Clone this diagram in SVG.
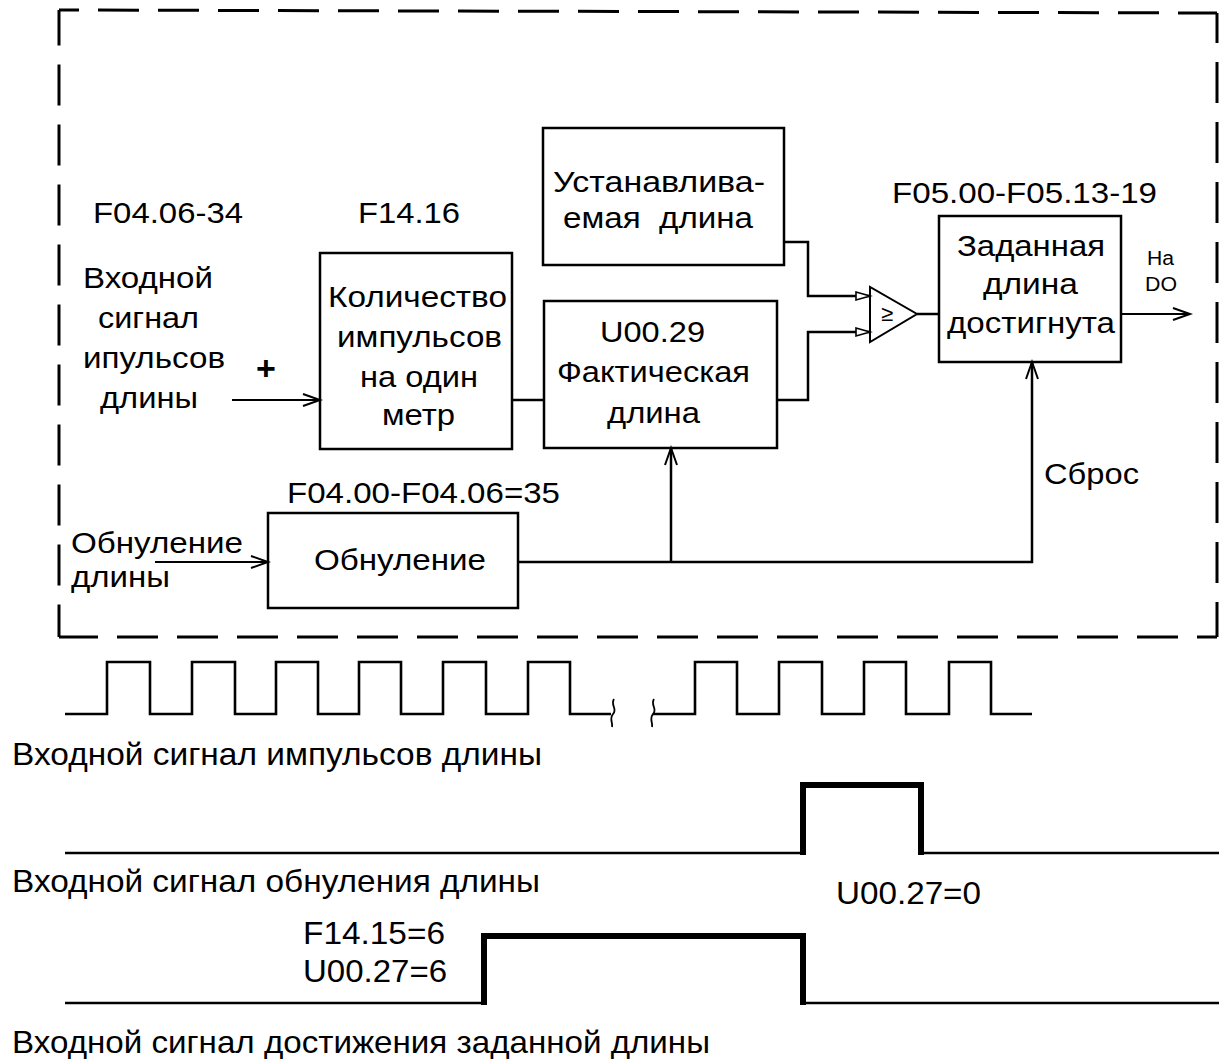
<svg xmlns="http://www.w3.org/2000/svg" width="1219" height="1059" viewBox="0 0 1219 1059">
<style>
  text { font-family: "Liberation Sans", Arial, sans-serif; font-size: 30px; fill: #000; }
  .box { fill: none; stroke: #000; stroke-width: 2.5; }
  .ln { fill: none; stroke: #000; stroke-width: 2.5; }
  .thin { fill: none; stroke: #000; stroke-width: 1.8; }
  .dash { fill: none; stroke: #000; stroke-width: 3; stroke-dasharray: 41 19; }
  .wave { fill: none; stroke: #000; stroke-width: 2.6; }
  .thick { fill: none; stroke: #000; stroke-width: 6; stroke-linejoin: miter; }
  .sm { font-size: 20px; }
  .bt { font-size: 32px; }
</style>
<defs>
  <marker id="open" markerUnits="userSpaceOnUse" markerWidth="20" markerHeight="16" refX="18" refY="7" orient="auto" overflow="visible">
    <path d="M1,1 L18,7 L1,13" fill="none" stroke="#000" stroke-width="2"/>
  </marker>
  <marker id="hollow" markerUnits="userSpaceOnUse" markerWidth="16" markerHeight="12" refX="15" refY="5" orient="auto" overflow="visible">
    <path d="M1,1 L15,5 L1,9 Z" fill="#fff" stroke="#000" stroke-width="1.6"/>
  </marker>
</defs>
<rect width="1219" height="1059" fill="#fff"/>

<g id="frame">
  <line class="dash" x1="59" y1="10" x2="1217" y2="13" stroke-dashoffset="21"/>
  <line class="dash" x1="59" y1="10" x2="59" y2="637" stroke-dashoffset="5.5"/>
  <line class="dash" x1="1217" y1="13" x2="1217" y2="637" stroke-dashoffset="11"/>
  <line class="dash" x1="59" y1="637" x2="1217" y2="637" stroke-dashoffset="2"/>
</g>

<g id="labels">
  <text x="93" y="223" textLength="150" lengthAdjust="spacingAndGlyphs">F04.06-34</text>
  <text x="358" y="223" textLength="102" lengthAdjust="spacingAndGlyphs">F14.16</text>
  <text x="83" y="288" textLength="130" lengthAdjust="spacingAndGlyphs">Входной</text>
  <text x="98" y="328" textLength="101" lengthAdjust="spacingAndGlyphs">сигнал</text>
  <text x="83" y="368" textLength="142" lengthAdjust="spacingAndGlyphs">ипульсов</text>
  <text x="100" y="408" textLength="98" lengthAdjust="spacingAndGlyphs">длины</text>
  <text x="266" y="380" text-anchor="middle" style="font-size:34px;font-weight:bold">+</text>
  <text x="892" y="203" textLength="265" lengthAdjust="spacingAndGlyphs">F05.00-F05.13-19</text>
  <text class="sm" x="1147" y="265" textLength="27" lengthAdjust="spacingAndGlyphs">На</text>
  <text class="sm" x="1145" y="291" textLength="32" lengthAdjust="spacingAndGlyphs">DO</text>
  <text x="1044" y="484" textLength="95" lengthAdjust="spacingAndGlyphs">Сброс</text>
  <text x="287" y="503" textLength="273" lengthAdjust="spacingAndGlyphs">F04.00-F04.06=35</text>
  <text x="71" y="553" textLength="172" lengthAdjust="spacingAndGlyphs">Обнуление</text>
  <text x="71" y="587" textLength="99" lengthAdjust="spacingAndGlyphs">длины</text>
</g>

<g id="node-pulses-per-meter">
  <rect class="box" x="320" y="253" width="192" height="196"/>
  <text x="328" y="307" textLength="179" lengthAdjust="spacingAndGlyphs">Количество</text>
  <text x="337" y="347" textLength="165" lengthAdjust="spacingAndGlyphs">импульсов</text>
  <text x="360" y="387" textLength="118" lengthAdjust="spacingAndGlyphs">на один</text>
  <text x="382" y="425" textLength="73" lengthAdjust="spacingAndGlyphs">метр</text>
</g>

<g id="node-set-length">
  <rect class="box" x="543" y="128" width="241" height="137"/>
  <text x="553" y="192" textLength="212" lengthAdjust="spacingAndGlyphs">Устанавлива-</text>
  <text x="563" y="228" textLength="190" lengthAdjust="spacingAndGlyphs" xml:space="preserve">емая  длина</text>
</g>

<g id="node-actual-length">
  <rect class="box" x="544" y="301" width="233" height="147"/>
  <text x="600" y="342" textLength="105" lengthAdjust="spacingAndGlyphs">U00.29</text>
  <text x="557" y="382" textLength="193" lengthAdjust="spacingAndGlyphs">Фактическая</text>
  <text x="607" y="423" textLength="93" lengthAdjust="spacingAndGlyphs">длина</text>
</g>

<g id="node-comparator">
  <polygon points="870,287 870,342 917,314" fill="#fff" stroke="#000" stroke-width="2"/>
  <text x="887" y="321" text-anchor="middle" style="font-size:22px">≥</text>
</g>

<g id="node-reached">
  <rect class="box" x="939" y="216" width="182" height="146"/>
  <text x="957" y="256" textLength="148" lengthAdjust="spacingAndGlyphs">Заданная</text>
  <text x="983" y="294" textLength="95" lengthAdjust="spacingAndGlyphs">длина</text>
  <text x="947" y="333" textLength="168" lengthAdjust="spacingAndGlyphs">достигнута</text>
</g>

<g id="node-reset">
  <rect class="box" x="268" y="513" width="250" height="95"/>
  <text x="314" y="570" textLength="172" lengthAdjust="spacingAndGlyphs">Обнуление</text>
</g>

<g id="connectors">
  <path class="thin" d="M232,400 H320" marker-end="url(#open)"/>
  <path class="ln" d="M512,400 H544"/>
  <path class="ln" d="M784,242 H808 V296 H870" marker-end="url(#hollow)"/>
  <path class="ln" d="M777,400 H808 V332 H870" marker-end="url(#hollow)"/>
  <path class="ln" d="M917,314 H939"/>
  <path class="thin" d="M1121,314 H1190" marker-end="url(#open)"/>
  <path class="thin" d="M155,562 H268" marker-end="url(#open)"/>
  <path class="ln" d="M518,562 H1032 V362" marker-end="url(#open)"/>
  <path class="ln" d="M671,562 V448" marker-end="url(#open)"/>
</g>

<g id="timing">
  <path class="wave" d="M65,714 H107 V662 H150 V714 H192 V662 H235 V714 H276 V662 H318 V714 H359 V662 H401 V714 H443 V662 H486 V714 H528 V662 H570 V714 H611"/>
  <path class="thin" d="M614,699 C610,705 618,709 613,714 C609,719 613,722 612,727"/>
  <path class="thin" d="M654,699 C650,705 658,709 653,714 C649,719 653,722 652,727"/>
  <path class="wave" d="M653,714 H695 V662 H737 V714 H779 V662 H822 V714 H864 V662 H906 V714 H949 V662 H991 V714 H1032"/>
  <text class="bt" x="12" y="765" textLength="530" lengthAdjust="spacingAndGlyphs">Входной сигнал импульсов длины</text>

  <path class="wave" d="M65,853 H803 M921,853 H1219"/>
  <path class="thick" d="M803,855 V785 H921 V855"/>
  <text class="bt" x="12" y="892" textLength="528" lengthAdjust="spacingAndGlyphs">Входной сигнал обнуления длины</text>
  <text class="bt" x="836" y="904" textLength="145" lengthAdjust="spacingAndGlyphs">U00.27=0</text>

  <text class="bt" x="303" y="944" textLength="142" lengthAdjust="spacingAndGlyphs">F14.15=6</text>
  <text class="bt" x="303" y="982" textLength="144" lengthAdjust="spacingAndGlyphs">U00.27=6</text>
  <path class="wave" d="M65,1003 H484 M803,1003 H1219"/>
  <path class="thick" d="M484,1005 V936 H803 V1005"/>
  <text class="bt" x="12" y="1053" textLength="698" lengthAdjust="spacingAndGlyphs">Входной сигнал достижения заданной длины</text>
</g>
</svg>
